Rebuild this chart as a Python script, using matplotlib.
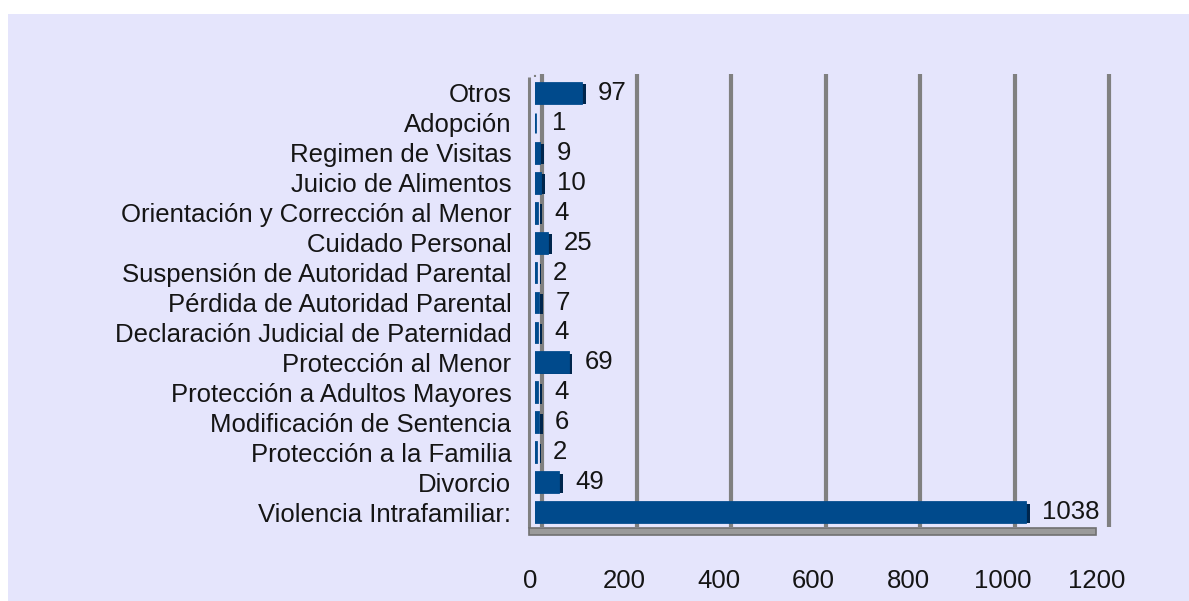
import matplotlib
matplotlib.use("Agg")
import matplotlib.pyplot as plt
import matplotlib.transforms as mtransforms
import matplotlib.patheffects as pe
from matplotlib.patches import Rectangle
import numpy as np

categories = [
    "Otros",
    "Adopción",
    "Regimen de Visitas",
    "Juicio de Alimentos",
    "Orientación y Corrección al Menor",
    "Cuidado Personal",
    "Suspensión de Autoridad Parental",
    "Pérdida de Autoridad Parental",
    "Declaración Judicial de Paternidad",
    "Protección al Menor",
    "Protección a Adultos Mayores",
    "Modificación de Sentencia",
    "Protección a la Familia",
    "Divorcio",
    "Violencia Intrafamiliar:",
]
values = [97, 1, 9, 10, 4, 25, 2, 7, 4, 69, 4, 6, 2, 49, 1038]
xticks = [0, 200, 400, 600, 800, 1000, 1200]

plt.rcParams['font.family'] = ['Liberation Sans', 'DejaVu Sans']
FS = 18.5
TXT = '#151515'

W, H = 1189, 601
fig = plt.figure(figsize=(W / 100, H / 100), dpi=100)
fig.patch.set_facecolor('white')
fig.patches.append(Rectangle((8 / W, 0), 1, (H - 14) / H, transform=fig.transFigure,
                             facecolor='#E5E5FC', edgecolor='none', zorder=-10))

left_px, right_px, top_px, bot_px = 535, 1102, 78, 527
ax = fig.add_axes([left_px / W, 1 - bot_px / H, (right_px - left_px) / W, (bot_px - top_px) / H])
ax.set_facecolor('none')
for s in ax.spines.values():
    s.set_visible(False)

n = len(categories)
y = np.arange(n)[::-1]
ax.set_xlim(0, 1200)
ax.set_ylim(-0.5, n - 0.5)


def shift(dx, dy=0):
    return ax.transData + mtransforms.ScaledTranslation(dx / 100, dy / 100, fig.dpi_scale_trans)


grid_c = '#808080'
for v in xticks:
    ax.plot([v, v], [-0.5, n - 0.35], color=grid_c, lw=3, transform=shift(7), clip_on=False, zorder=1,
            solid_capstyle='butt')
# left wall front edge
ax.plot([0, 0], [-0.55, n - 0.45], color=grid_c, lw=2.2, transform=shift(-6), clip_on=False, zorder=1,
        solid_capstyle='butt')
ax.plot([0, 0], [n - 0.45, n - 0.35], color=grid_c, lw=1.5, ls=':', transform=shift(0, 0),
        clip_on=False, zorder=1)
# floor
floor = Rectangle((0, -0.78), 1200, 0.24, transform=shift(-6), facecolor='#9A9A9A',
                  edgecolor='#707070', lw=1.2, clip_on=False, zorder=2)
ax.add_patch(floor)

bars = ax.barh(y, values, height=0.66, color='#004A8C', edgecolor='#004A8C', lw=2.0, zorder=4)
for b in bars:
    b.set_path_effects([pe.SimplePatchShadow(offset=(3.5, -1.0), shadow_rgbFace='#00264D', alpha=1.0),
                        pe.Normal()])

for yi, v in zip(y, values):
    ax.annotate(str(v), (v, yi), xytext=(17, 0), textcoords='offset pixels',
                ha='left', va='center', fontsize=FS, color=TXT, zorder=5)

ax.set_yticks(y)
ax.set_yticklabels(categories, fontsize=FS, color=TXT)
ax.set_xticks(xticks)
ax.set_xticklabels([str(t) for t in xticks], fontsize=FS, color=TXT)
ax.tick_params(axis='y', length=0, pad=17)
ax.tick_params(axis='x', length=0, pad=30)
for lbl in ax.get_xticklabels():
    lbl.set_transform(lbl.get_transform() + mtransforms.ScaledTranslation(-5 / 100, 0, fig.dpi_scale_trans))

fig.savefig('out.png', dpi=100, facecolor=fig.get_facecolor())
